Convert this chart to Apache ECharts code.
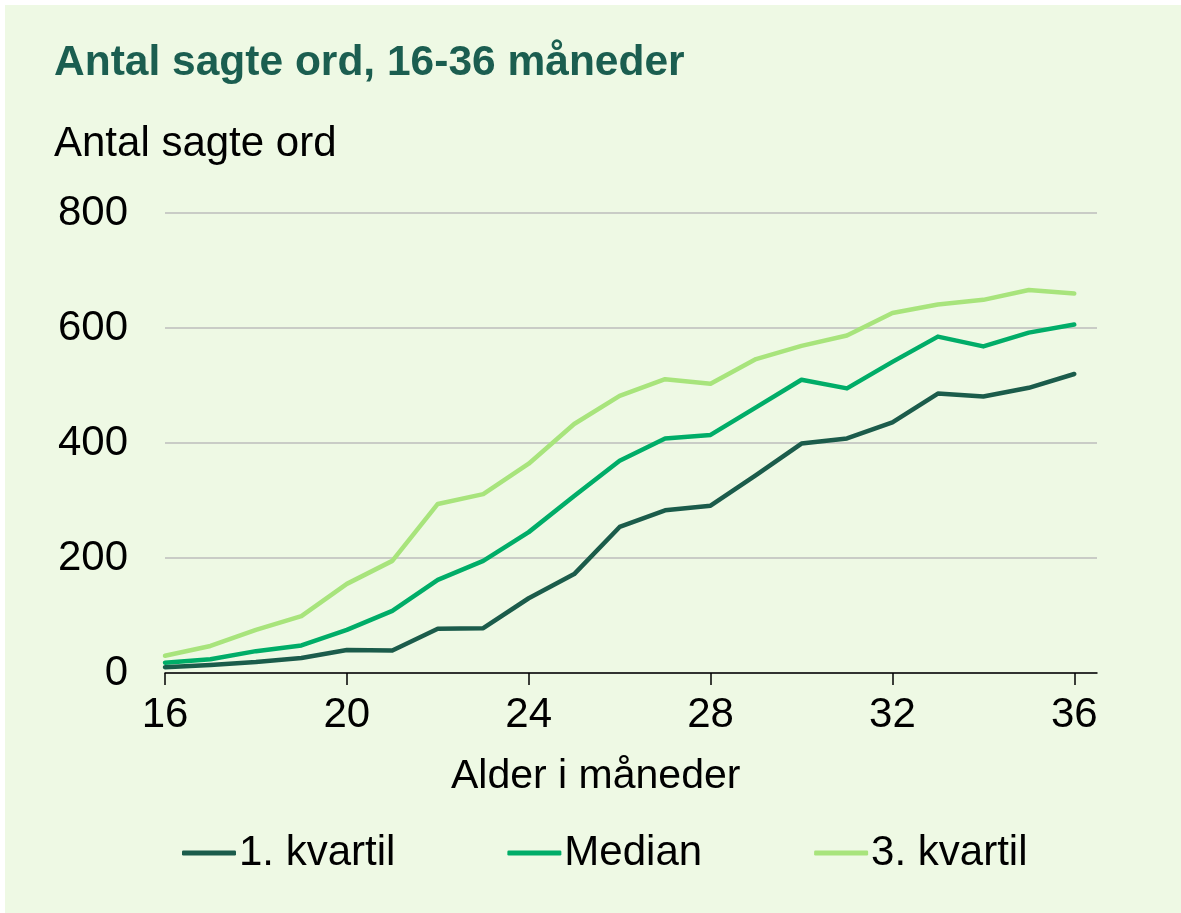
<!DOCTYPE html>
<html>
<head>
<meta charset="utf-8">
<script src="https://cdn.jsdelivr.net/npm/echarts@6/dist/echarts.min.js"></script>
<style>
html,body{margin:0;padding:0;background:#ffffff;}
#chart{width:1181px;height:913px;}
</style>
</head>
<body>
<div id="chart"></div>
<script>
const months = [16,17,18,19,20,21,22,23,24,25,26,27,28,29,30,31,32,33,34,35,36];
const kvartil1 = [10,14,19,26,40,39,77,78,130,172,254,283,291,344,399,408,436,486,481,496,520];
const median   = [18,24,38,48,75,108,162,195,245,308,369,408,414,462,510,495,541,585,568,592,606];
const kvartil3 = [30,47,75,99,155,195,294,311,364,433,482,511,503,546,569,587,626,641,649,666,660];
const xTicks = [16,20,24,28,32,36];
const yTicks = [0,200,400,600,800];
const seriesNames = ['1. kvartil','Median','3. kvartil'];
const colors = ['#1b5c4b','#00ad68','#a8e47c'];

const FONT = "'Liberation Sans', Arial, sans-serif";
const pairs = arr => months.map((m,i)=>[m, arr[i]]);
const allData = [kvartil1, median, kvartil3];

const chart = echarts.init(document.getElementById('chart'), null, {renderer:'canvas'});
chart.setOption({
  backgroundColor: 'transparent',
  animation: false,
  graphic: [
    {type:'rect', left:5, top:5, z:-10, shape:{width:1176, height:908}, style:{fill:'#eef9e4'}},
    {type:'text', left:54, top:42, style:{text:'Antal sagte ord, 16-36 måneder', font:"bold 42.5px " + FONT, fill:'#1b5e50'}},
    {type:'text', left:54, top:123, style:{text:'Antal sagte ord', font:"42px " + FONT, fill:'#000000'}},
    {type:'text', left:451, top:756, style:{text:'Alder i måneder', font:"41px " + FONT, fill:'#000000'}}
  ],
  grid: {left:165, right:84, top:213, bottom:240, containLabel:false},
  legend: {
    data: seriesNames,
    left: 177, top: 827,
    itemWidth: 54, itemHeight: 5, itemGap: 112,
    textStyle: {fontFamily: FONT, fontSize: 42, color:'#000000', padding:[0,0,0,-2]},
    icon: 'roundRect',
    selectedMode: false
  },
  xAxis: {
    type:'value', min:16, max:36.5, interval:4,
    axisLine:{show:true, onZero:false, lineStyle:{color:'#000000', width:1.5}},
    axisTick:{show:true, length:12, customValues:xTicks, lineStyle:{color:'#000000', width:1.5}},
    axisLabel:{customValues:xTicks, margin:21, fontFamily:FONT, fontSize:42, color:'#000000'},
    splitLine:{show:false}
  },
  yAxis: {
    type:'value', min:0, max:800, interval:200,
    axisLine:{show:false}, axisTick:{show:false},
    axisLabel:{margin:37, fontFamily:FONT, fontSize:42, color:'#000000'},
    splitLine:{show:true, lineStyle:{color:'#bdbdbd', width:1.5}}
  },
  series: seriesNames.map((n,i)=>({
    name:n, type:'line', data:pairs(allData[i]),
    symbol:'none', smooth:false,
    lineStyle:{color:colors[i], width:4.5, cap:'round', join:'round'},
    itemStyle:{color:colors[i]},
    z: 10 - i
  }))
});
</script>
</body>
</html>
